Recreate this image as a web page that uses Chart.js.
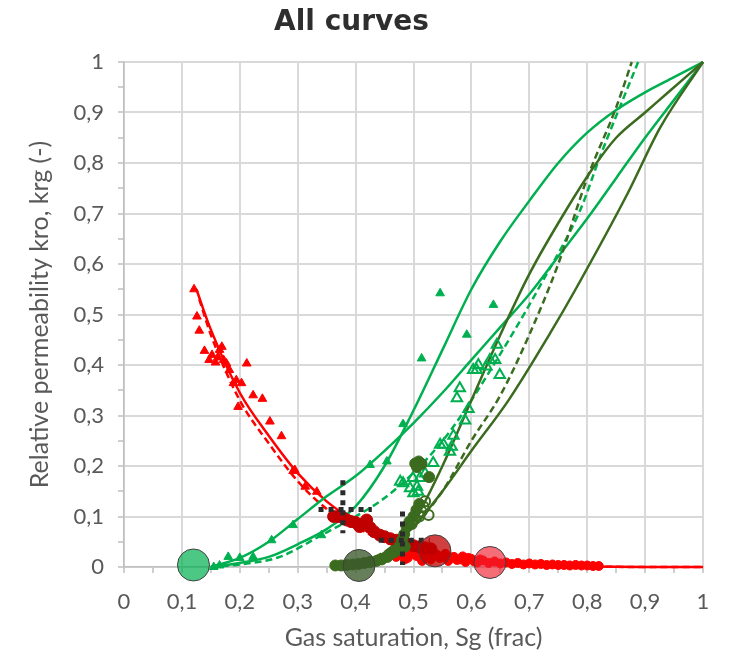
<!DOCTYPE html>
<html>
<head>
<meta charset="utf-8">
<script src="https://cdn.jsdelivr.net/npm/chart.js@4/dist/chart.umd.min.js"></script>
<style>
  html, body { margin: 0; padding: 0; background: #ffffff; }
  #wrap { width: 731px; height: 656px; }
</style>
</head>
<body>
<div id="wrap"><canvas id="allCurves" width="731" height="656"></canvas></div>
<script>
// Etiquetas de los ejes
var tickLabels = ['0', '0,1', '0,2', '0,3', '0,4', '0,5', '0,6', '0,7', '0,8', '0,9', '1'];

// Curva kro ajustada (linea roja continua)
var redSolidX = [0.125, 0.15, 0.2, 0.25, 0.3, 0.35, 0.4, 0.45, 0.5, 0.55, 0.6, 0.7, 0.8, 0.9, 1];
var redSolidY = [0.55, 0.47, 0.345, 0.26, 0.186, 0.13, 0.09, 0.06, 0.038, 0.022, 0.012, 0.004, 0.001, 0.0, 0.0];

// Curva kro (linea roja discontinua)
var redDashX = [0.13, 0.15, 0.2, 0.25, 0.3, 0.35, 0.4, 0.45, 0.5, 0.55, 0.6, 0.7, 0.8, 0.9, 1];
var redDashY = [0.53, 0.46, 0.33, 0.245, 0.17, 0.115, 0.08, 0.05, 0.03, 0.017, 0.01, 0.003, 0.001, 0.0, 0.0];

// Puntos kro (triangulos rojos)
var redTriX = [0.121, 0.126, 0.130, 0.139, 0.147, 0.152, 0.158, 0.162, 0.165, 0.169, 0.172, 0.177, 0.182, 0.189, 0.194, 0.197, 0.203, 0.212, 0.223, 0.239, 0.252, 0.272, 0.292, 0.295, 0.313, 0.333];
var redTriY = [0.550, 0.496, 0.468, 0.428, 0.410, 0.420, 0.405, 0.415, 0.430, 0.436, 0.410, 0.403, 0.390, 0.364, 0.370, 0.317, 0.364, 0.403, 0.340, 0.333, 0.288, 0.259, 0.190, 0.192, 0.159, 0.149];

// Puntos kro (circulos rojo oscuro)
var darkRedX = [0.362, 0.370, 0.378, 0.385, 0.392, 0.400, 0.407, 0.412, 0.419, 0.425, 0.432, 0.442, 0.450, 0.460, 0.471, 0.480, 0.490, 0.500, 0.510, 0.520, 0.530];
var darkRedY = [0.100, 0.100, 0.098, 0.093, 0.090, 0.088, 0.080, 0.085, 0.093, 0.078, 0.070, 0.063, 0.060, 0.056, 0.053, 0.050, 0.045, 0.042, 0.040, 0.038, 0.036];

// Banda roja cerca de cero
var redBandX = [0.470, 0.475, 0.480, 0.485, 0.490, 0.495, 0.500, 0.505, 0.510, 0.515, 0.520, 0.525, 0.530, 0.535, 0.540, 0.545, 0.550, 0.555, 0.560, 0.565, 0.570, 0.575, 0.580, 0.585, 0.590, 0.595, 0.600, 0.605, 0.610, 0.615, 0.620, 0.630, 0.640, 0.650, 0.660, 0.670, 0.680, 0.690, 0.700, 0.710, 0.720, 0.730, 0.740, 0.750, 0.760, 0.770, 0.780, 0.790, 0.800, 0.810, 0.820];
var redBandY = [0.020, 0.028, 0.025, 0.015, 0.018, 0.030, 0.030, 0.022, 0.020, 0.012, 0.028, 0.022, 0.015, 0.026, 0.025, 0.018, 0.020, 0.026, 0.012, 0.019, 0.020, 0.014, 0.015, 0.021, 0.010, 0.018, 0.016, 0.011, 0.009, 0.015, 0.013, 0.008, 0.011, 0.007, 0.009, 0.006, 0.008, 0.005, 0.007, 0.005, 0.006, 0.004, 0.005, 0.004, 0.004, 0.003, 0.004, 0.003, 0.003, 0.002, 0.002];

// krg verde claro, linea 1 (forma de S)
var greenOneX = [0.15, 0.2, 0.25, 0.3, 0.35, 0.4, 0.45, 0.5, 0.55, 0.6, 0.65, 0.7, 0.75, 0.8, 0.85, 0.9, 0.95, 1];
var greenOneY = [0.0, 0.008, 0.02, 0.045, 0.075, 0.12, 0.2, 0.31, 0.43, 0.55, 0.645, 0.725, 0.8, 0.86, 0.905, 0.94, 0.97, 1];

// krg verde claro, linea 2
var greenTwoX = [0.15, 0.2, 0.25, 0.3, 0.35, 0.4, 0.45, 0.5, 0.55, 0.6, 0.65, 0.7, 0.75, 0.8, 0.85, 0.9, 0.95, 1];
var greenTwoY = [0.0, 0.018, 0.05, 0.095, 0.14, 0.18, 0.23, 0.285, 0.345, 0.41, 0.475, 0.54, 0.615, 0.69, 0.77, 0.85, 0.925, 1];

// krg verde claro, discontinua
var greenDashX = [0.15, 0.2, 0.269, 0.341, 0.4, 0.442, 0.477, 0.52, 0.569, 0.649, 0.724, 0.788, 0.822, 0.888];
var greenDashY = [0.0, 0.005, 0.02, 0.063, 0.1, 0.13, 0.162, 0.21, 0.278, 0.42, 0.568, 0.707, 0.812, 1];

// krg verde oscuro, linea A
var oliveAX = [0.38, 0.44, 0.5, 0.55, 0.6, 0.65, 0.7, 0.76, 0.81, 0.85, 0.9, 0.94, 1];
var oliveAY = [0.0, 0.02, 0.09, 0.2, 0.33, 0.46, 0.58, 0.7, 0.79, 0.85, 0.9, 0.94, 1];

// krg verde oscuro, linea B
var oliveBX = [0.38, 0.44, 0.5, 0.55, 0.6, 0.664, 0.736, 0.78, 0.87, 0.926, 1];
var oliveBY = [0.0, 0.02, 0.08, 0.15, 0.23, 0.33, 0.463, 0.55, 0.74, 0.87, 1];

// krg verde oscuro, discontinua
var oliveDashX = [0.38, 0.45, 0.5, 0.55, 0.6, 0.65, 0.7, 0.75, 0.8, 0.85, 0.877];
var oliveDashY = [0.0, 0.03, 0.08, 0.15, 0.25, 0.34, 0.46, 0.6, 0.77, 0.91, 1];

// Puntos krg (triangulos verdes rellenos)
var greenTriX = [0.155, 0.165, 0.18, 0.2, 0.223, 0.255, 0.292, 0.341, 0.425, 0.454, 0.482, 0.514, 0.546, 0.592, 0.638];
var greenTriY = [0.0, 0.003, 0.02, 0.018, 0.02, 0.053, 0.083, 0.063, 0.202, 0.209, 0.283, 0.413, 0.542, 0.46, 0.519];

// Puntos krg (triangulos verdes vacios)
var greenOpenX = [0.477, 0.482, 0.494, 0.499, 0.500, 0.506, 0.508, 0.511, 0.520, 0.534, 0.546, 0.552, 0.563, 0.566, 0.569, 0.575, 0.580, 0.589, 0.595, 0.603, 0.609, 0.612, 0.626, 0.632, 0.641, 0.644, 0.649];
var greenOpenY = [0.169, 0.166, 0.156, 0.176, 0.146, 0.159, 0.149, 0.176, 0.185, 0.206, 0.242, 0.242, 0.228, 0.238, 0.260, 0.334, 0.354, 0.290, 0.313, 0.390, 0.390, 0.400, 0.397, 0.410, 0.410, 0.440, 0.380];

// Puntos krg (circulos verde oscuro rellenos)
var oliveDotX = [0.365, 0.375, 0.385, 0.395, 0.405, 0.415, 0.425, 0.436, 0.445, 0.455, 0.460, 0.468, 0.475, 0.480, 0.484, 0.488, 0.493, 0.500, 0.505, 0.510, 0.503, 0.509, 0.514, 0.506, 0.527, 0.485];
var oliveDotY = [0.003, 0.003, 0.004, 0.005, 0.006, 0.008, 0.010, 0.012, 0.015, 0.020, 0.025, 0.030, 0.040, 0.053, 0.065, 0.080, 0.090, 0.100, 0.113, 0.125, 0.205, 0.209, 0.204, 0.198, 0.178, 0.040];

// Puntos krg (circulos verde oscuro vacios)
var oliveOpenX = [0.497, 0.503, 0.510, 0.514, 0.517, 0.526, 0.520];
var oliveOpenY = [0.085, 0.095, 0.100, 0.110, 0.120, 0.103, 0.130];

// Barras de error punteadas (negro)
var crossOneVX = [0.378, 0.378];
var crossOneVY = [0.172, 0.067];
var crossOneHX = [0.336, 0.428];
var crossOneHY = [0.114, 0.114];
var crossTwoVX = [0.481, 0.481];
var crossTwoVY = [0.110, 0.004];
var crossTwoHX = [0.440, 0.528];
var crossTwoHY = [0.053, 0.053];

// Puntos finales grandes
var bigGreenX = [0.12];
var bigGreenY = [0.004];
var bigOliveX = [0.406];
var bigOliveY = [0.003];
var bigDarkRedX = [0.537];
var bigDarkRedY = [0.032];
var bigRedX = [0.632];
var bigRedY = [0.009];

function pts(xs, ys) {
    return xs.map(function (x, i) { return { x: x, y: ys[i] }; });
}

var rojo = '#FF0000';
var rojoOscuro = '#C00000';
var verde = '#00B050';
var verdeOscuro = '#3B6B1E';

function linea(xs, ys, color, dash) {
    return {
        data: pts(xs, ys),
        showLine: true,
        clip: false,
        borderColor: color,
        borderWidth: 2.5,
        borderDash: dash || [],
        pointRadius: 0,
        cubicInterpolationMode: 'monotone',
        fill: false
    };
}

function puntos(xs, ys, style, radius, fillColor, lineColor, width) {
    return {
        data: pts(xs, ys),
        showLine: false,
        clip: false,
        pointStyle: style,
        pointRadius: radius,
        pointBackgroundColor: fillColor,
        pointBorderColor: lineColor,
        pointBorderWidth: width
    };
}

function cruz(xs, ys) {
    return {
        data: pts(xs, ys),
        showLine: true,
        clip: false,
        borderColor: '#2b2b2b',
        borderWidth: 5,
        borderDash: [5, 5],
        borderCapStyle: 'butt',
        pointRadius: 0
    };
}

function esMayor(v) {
    return Math.abs(v * 10 - Math.round(v * 10)) < 1e-6;
}

function etiqueta(v) {
    if (!esMayor(v)) return '';
    return tickLabels[Math.round(v * 10)];
}

var datasets = [
    puntos(bigGreenX, bigGreenY, 'circle', 16, 'rgba(0,176,80,0.7)', '#404040', 1),
    puntos(bigOliveX, bigOliveY, 'circle', 16, 'rgba(60,90,45,0.78)', '#404040', 1),
    puntos(bigDarkRedX, bigDarkRedY, 'circle', 16, 'rgba(192,0,0,0.75)', '#404040', 1),
    puntos(bigRedX, bigRedY, 'circle', 16, 'rgba(240,30,45,0.65)', '#404040', 1),
    cruz(crossOneVX, crossOneVY),
    cruz(crossOneHX, crossOneHY),
    cruz(crossTwoVX, crossTwoVY),
    cruz(crossTwoHX, crossTwoHY),
    puntos(oliveOpenX, oliveOpenY, 'circle', 5, 'rgba(255,255,255,0)', verdeOscuro, 2),
    puntos(oliveDotX, oliveDotY, 'circle', 5.5, verdeOscuro, verdeOscuro, 1),
    puntos(greenOpenX, greenOpenY, 'triangle', 6, 'rgba(255,255,255,0)', verde, 2),
    puntos(greenTriX, greenTriY, 'triangle', 5, verde, verde, 1),
    puntos(darkRedX, darkRedY, 'circle', 6, rojoOscuro, rojoOscuro, 1),
    puntos(redBandX, redBandY, 'circle', 4.5, rojo, rojo, 1),
    puntos(redTriX, redTriY, 'triangle', 5, rojo, rojo, 1),
    linea(oliveAX, oliveAY, verdeOscuro),
    linea(oliveBX, oliveBY, verdeOscuro),
    linea(oliveDashX, oliveDashY, verdeOscuro, [7, 4]),
    linea(greenOneX, greenOneY, verde),
    linea(greenTwoX, greenTwoY, verde),
    linea(greenDashX, greenDashY, verde, [7, 4]),
    linea(redSolidX, redSolidY, rojo),
    linea(redDashX, redDashY, rojo, [7, 4])
];

var ejeComun = {
    type: 'linear',
    min: 0,
    max: 1,
    border: { color: '#bfbfbf', width: 1.5 },
    grid: {
        color: function (ctx) { return esMayor(ctx.tick.value) ? '#d9d9d9' : 'rgba(0,0,0,0)'; },
        lineWidth: 2,
        tickColor: '#bfbfbf',
        tickLength: 6,
        tickWidth: 1.5
    }
};

var contexto = document.getElementById('allCurves').getContext('2d');

var grafico = new Chart(contexto, {
    type: 'scatter',
    data: { datasets: datasets },
    options: {
        responsive: false,
        animation: false,
        layout: { padding: { left: 0, right: 28, top: 0, bottom: 0 } },
        plugins: {
            legend: { display: false },
            tooltip: { enabled: false },
            title: {
                display: true,
                text: 'All curves',
                color: '#2e2e2e',
                font: { family: 'DejaVu Sans', size: 28, weight: 'bold' },
                padding: { top: 6, bottom: 22.4 }
            }
        },
        scales: {
            x: Object.assign({}, ejeComun, {
                afterFit: function (scale) { scale.height = 89; },
                ticks: {
                    stepSize: 0.05,
                    autoSkip: false,
                    maxRotation: 0,
                    padding: 16,
                    color: '#595959',
                    font: { family: 'Lato', size: 22 },
                    callback: etiqueta
                },
                title: {
                    display: true,
                    text: 'Gas saturation, Sg (frac)',
                    color: '#595959',
                    font: { family: 'Lato', size: 25 },
                    padding: { top: 0, bottom: 3 }
                }
            }),
            y: Object.assign({}, ejeComun, {
                afterFit: function (scale) { scale.width = 124; },
                ticks: {
                    stepSize: 0.05,
                    autoSkip: false,
                    padding: 14,
                    color: '#595959',
                    font: { family: 'Lato', size: 22 },
                    callback: etiqueta
                },
                title: {
                    display: true,
                    text: 'Relative permeability kro, krg (-)',
                    color: '#595959',
                    font: { family: 'Lato', size: 25 },
                    padding: { top: 25, bottom: 0 }
                }
            })
        }
    }
});
</script>
</body>
</html>
